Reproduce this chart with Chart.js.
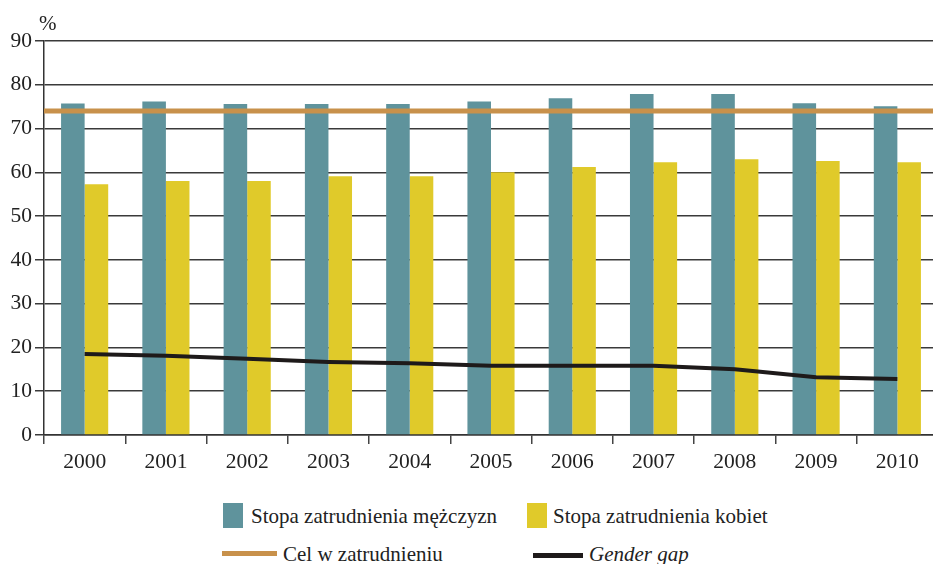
<!DOCTYPE html>
<html lang="pl">
<head>
<meta charset="utf-8">
<script src="https://cdn.jsdelivr.net/npm/chart.js@4/dist/chart.umd.min.js"></script>
<style>
    body { margin: 0; background: #fff; overflow: hidden; width: 933px; height: 564px; position: relative; font-family: "Liberation Serif", "Times New Roman", serif; color: #222; }
    #chart { position: absolute; left: 0; top: 0; }
    .unit { position: absolute; left: 39px; top: 11px; font-size: 21px; line-height: 24px; }
    .item { position: absolute; font-size: 21px; white-space: nowrap; line-height: 24px; }
    .swatch { position: absolute; }
</style>
</head>
<body>
<canvas id="chart" width="940" height="480"></canvas>
<span class="unit">%</span>

<div class="swatch" style="left:223px;top:503px;width:20px;height:25px;background:#5f939c"></div>
<div class="item" style="left:251px;top:504px">Stopa zatrudnienia mężczyzn</div>
<div class="swatch" style="left:527px;top:503px;width:20px;height:25px;background:#e0ca2a"></div>
<div class="item" style="left:553px;top:504px">Stopa zatrudnienia kobiet</div>

<div class="swatch" style="left:222px;top:551px;width:55px;height:5px;background:#c8914b"></div>
<div class="item" style="left:283px;top:542px">Cel w zatrudnieniu</div>
<div class="swatch" style="left:533px;top:553px;width:50px;height:5px;background:#1e1a1a"></div>
<div class="item" style="left:589px;top:542px;font-style:italic">Gender gap</div>

<script>
const years = ['2000', '2001', '2002', '2003', '2004', '2005', '2006', '2007', '2008', '2009', '2010'];
const menRate = [75.7, 76.2, 75.6, 75.6, 75.6, 76.2, 76.9, 77.9, 77.9, 75.8, 75.1];
const womenRate = [57.3, 58.0, 58.0, 59.1, 59.1, 60.0, 61.2, 62.3, 63.0, 62.6, 62.3];
const genderGap = [18.5, 18.1, 17.4, 16.7, 16.4, 15.8, 15.8, 15.8, 15.0, 13.2, 12.8];
const employmentTarget = 74;
const yTicks = [0, 10, 20, 30, 40, 50, 60, 70, 80, 90];

// target rate runs across the full plot width, drawn just before the gender gap line
const targetLine = {
    id: 'targetLine',
    beforeDatasetDraw(chart, args) {
        if (args.meta.type !== 'line') return;
        const { ctx, chartArea, scales } = chart;
        const y = scales.y.getPixelForValue(employmentTarget);
        ctx.save();
        ctx.strokeStyle = '#c8914b';
        ctx.lineWidth = 5;
        ctx.beginPath();
        ctx.moveTo(chartArea.left, y);
        ctx.lineTo(chartArea.right, y);
        ctx.stroke();
        ctx.restore();
    }
};

window.onload = () => {
    const ctx = document.getElementById('chart').getContext('2d');
    const serif = { family: '"Liberation Serif", "Times New Roman", serif', size: 21.5 };

    new Chart(ctx, {
        type: 'bar',
        data: {
            labels: years,
            datasets: [
                {
                    label: 'Stopa zatrudnienia mężczyzn',
                    data: menRate,
                    backgroundColor: '#5f939c',
                    order: 2
                },
                {
                    label: 'Stopa zatrudnienia kobiet',
                    data: womenRate,
                    backgroundColor: '#e0ca2a',
                    order: 2
                },
                {
                    type: 'line',
                    label: 'Gender gap',
                    data: genderGap,
                    borderColor: '#1e1a1a',
                    borderWidth: 4,
                    pointRadius: 0,
                    tension: 0,
                    order: 0
                }
            ]
        },
        options: {
            responsive: false,
            animation: false,
            devicePixelRatio: 1,
            barPercentage: 1,
            categoryPercentage: 0.58,
            layout: { padding: { top: 41, right: 2, left: 0, bottom: 0 } },
            plugins: {
                legend: { display: false },
                tooltip: { enabled: false }
            },
            scales: {
                x: {
                    offset: true,
                    grid: {
                        offset: true,
                        drawOnChartArea: false,
                        drawTicks: true,
                        tickLength: 9,
                        color: '#444',
                        lineWidth: 1.5
                    },
                    border: { color: '#333', width: 1.5 },
                    ticks: { font: serif, color: '#222', padding: 5, maxRotation: 0 },
                    afterFit: scale => { scale.height = 45; }
                },
                y: {
                    min: 0,
                    max: 90,
                    afterBuildTicks: scale => { scale.ticks = yTicks.map(v => ({ value: v })); },
                    grid: { color: '#3a3a3a', lineWidth: 1.5, tickLength: 9 },
                    border: { color: '#333', width: 1.5 },
                    ticks: { font: serif, color: '#222', padding: 3 },
                    afterFit: scale => { scale.width = 44; }
                }
            }
        },
        plugins: [targetLine]
    });
};
</script>
</body>
</html>
